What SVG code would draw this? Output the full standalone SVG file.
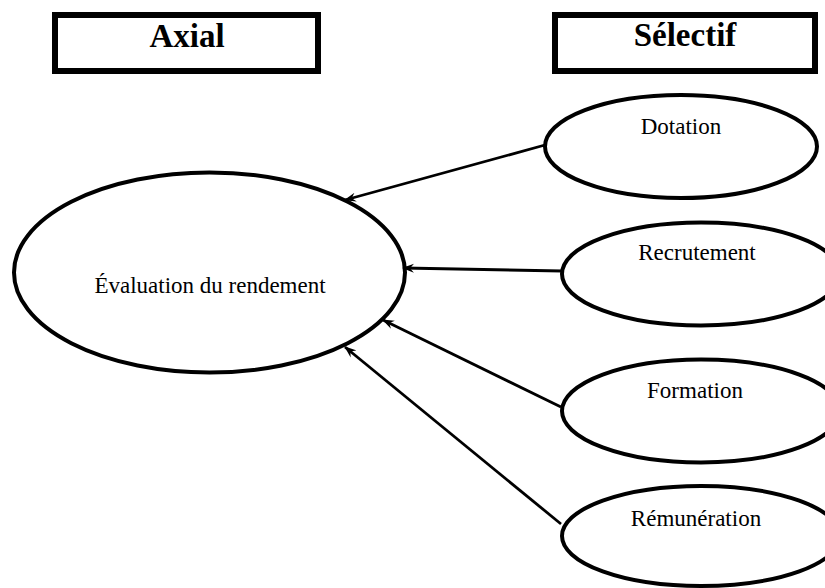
<svg xmlns="http://www.w3.org/2000/svg" width="825" height="588" viewBox="0 0 825 588">
  <style>
    .box { fill: #fff; stroke: #000; stroke-width: 6; }
    .node { fill: #fff; stroke: #000; stroke-width: 4; }
    .title { font-family: 'Liberation Serif', 'DejaVu Serif', serif; font-weight: bold; font-size: 33px; fill: #000; text-anchor: middle; }
    .label { font-family: 'Liberation Serif', 'DejaVu Serif', serif; font-size: 23px; fill: #000; text-anchor: middle; }
    .edge { stroke: #000; stroke-width: 2.8; fill: none; marker-end: url(#arrow); }
  </style>
  <defs>
    <marker id="arrow" viewBox="0 0 12 10" refX="11" refY="5" markerWidth="12" markerHeight="10" markerUnits="userSpaceOnUse" orient="auto">
      <path d="M0,0.5 L12,5 L0,9.5 L4,5 z" fill="#000"/>
    </marker>
  </defs>
  <rect width="825" height="588" fill="#fff"/>

  <g id="axial">
    <rect class="box" x="55" y="15" width="263" height="56"/>
    <text class="title" x="187" y="47" font-family="Liberation Serif, serif">Axial</text>
  </g>

  <g id="selectif">
    <rect class="box" x="555" y="15" width="260" height="56"/>
    <text class="title" x="685" y="46" font-family="Liberation Serif, serif">Sélectif</text>
  </g>

  <g id="evaluation">
    <ellipse class="node" cx="209.5" cy="272.5" rx="195.5" ry="100"/>
    <text class="label" x="210" y="293">Évaluation du rendement</text>
  </g>

  <g id="dotation">
    <ellipse class="node" cx="681" cy="146.5" rx="136" ry="51.5"/>
    <text class="label" x="681" y="134">Dotation</text>
  </g>

  <g id="recrutement">
    <ellipse class="node" cx="701" cy="274" rx="139" ry="51.5"/>
    <text class="label" x="697" y="260">Recrutement</text>
  </g>

  <g id="formation">
    <ellipse class="node" cx="701" cy="411" rx="139" ry="51.5"/>
    <text class="label" x="695" y="398">Formation</text>
  </g>

  <g id="remuneration">
    <ellipse class="node" cx="701" cy="536" rx="139" ry="50"/>
    <text class="label" x="696" y="526">Rémunération</text>
  </g>

  <g id="connectors">
    <line class="edge" x1="545" y1="145" x2="345" y2="200"/>
    <line class="edge" x1="562" y1="271" x2="403" y2="268"/>
    <line class="edge" x1="561" y1="407" x2="383" y2="320"/>
    <line class="edge" x1="561" y1="524" x2="345" y2="347"/>
  </g>
</svg>
